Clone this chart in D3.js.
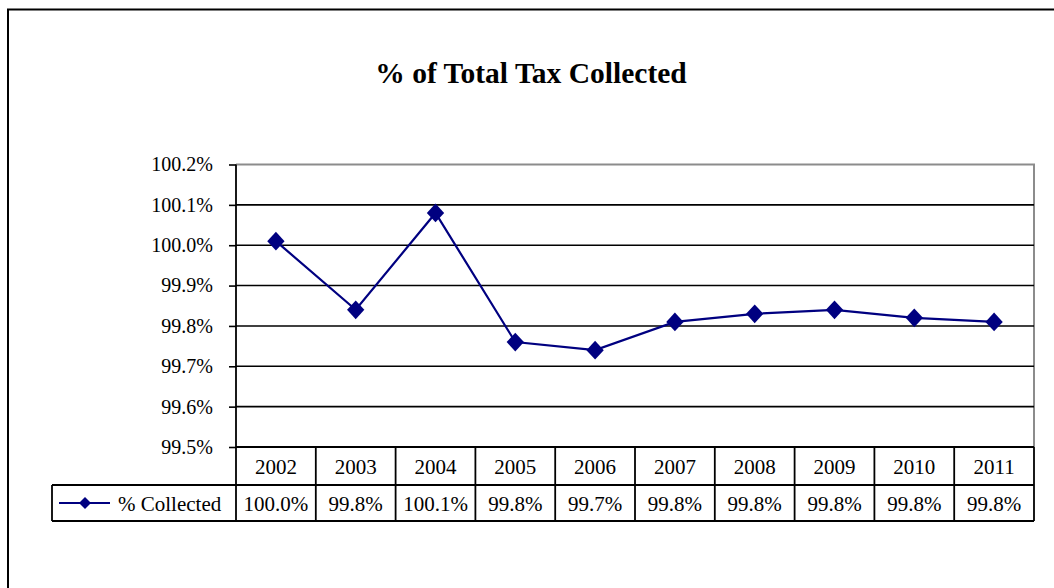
<!DOCTYPE html>
<html>
<head>
<meta charset="utf-8">
<script src="https://cdn.jsdelivr.net/npm/d3@7"></script>
<style>
  html, body { margin: 0; padding: 0; background: #fff; }
  svg { display: block; }
  text { font-family: "Liberation Serif", "Times New Roman", serif; fill: #000; }
</style>
</head>
<body>
<svg id="chart" width="1054" height="588"></svg>
<script>
// Annual collection rate (% of total tax levied)
const years = ["2002", "2003", "2004", "2005", "2006", "2007", "2008", "2009", "2010", "2011"];
const collected = [100.01, 99.84, 100.08, 99.76, 99.74, 99.81, 99.83, 99.84, 99.82, 99.81];
const yTicks = [99.5, 99.6, 99.7, 99.8, 99.9, 100.0, 100.1, 100.2];
const seriesName = "% Collected";
const title = "% of Total Tax Collected";

const svg = d3.select("#chart");
const navy = "#000080";

// square-ish diamond marker (width == height for a given size)
const wideDiamond = {
  draw(ctx, size) {
    const r = Math.sqrt(size / 2);
    ctx.moveTo(0, -r);
    ctx.lineTo(r, 0);
    ctx.lineTo(0, r);
    ctx.lineTo(-r, 0);
    ctx.closePath();
  }
};

// outer chart frame
svg.append("rect")
  .attr("x", 8).attr("y", 9.5)
  .attr("width", 1050).attr("height", 590)
  .attr("fill", "none").attr("stroke", "#000").attr("stroke-width", 2);

const plot = { left: 236, right: 1034, top: 164.5, bottom: 447 };
const row1 = 485, row2 = 521, legendLeft = 52;

const x = d3.scaleBand().domain(years).range([plot.left, plot.right]);
const y = d3.scaleLinear().domain([99.5, 100.2]).range([plot.bottom, plot.top]);

// title
svg.append("text")
  .attr("x", 531).attr("y", 83)
  .attr("text-anchor", "middle")
  .attr("font-size", 29.5).attr("font-weight", "bold")
  .text(title);

// plot border (grey top and right)
svg.append("path")
  .attr("d", `M${plot.left},${plot.top}H${plot.right}V${plot.bottom}`)
  .attr("fill", "none").attr("stroke", "#8c8c8c").attr("stroke-width", 2);

// gridlines
svg.append("g")
  .selectAll("line")
  .data(yTicks.filter(t => t > 99.5 && t < 100.2))
  .join("line")
  .attr("x1", plot.left).attr("x2", plot.right)
  .attr("y1", d => y(d)).attr("y2", d => y(d))
  .attr("stroke", "#000").attr("stroke-width", 1.6);

// y axis
const yAxis = d3.axisLeft(y)
  .tickValues(yTicks)
  .tickSize(7)
  .tickPadding(16)
  .tickFormat(d => d3.format(".1f")(d) + "%");
const ga = svg.append("g")
  .attr("transform", `translate(${plot.left},0)`)
  .call(yAxis);
ga.select(".domain").remove();
ga.selectAll(".tick line").attr("stroke", "#000").attr("stroke-width", 1.6);
ga.selectAll(".tick text")
  .attr("font-family", "Liberation Serif, Times New Roman, serif")
  .attr("font-size", 20).attr("fill", "#000");

// data table: row lines
const tbl = svg.append("g").attr("stroke", "#000").attr("stroke-width", 1.8).attr("fill", "none");
tbl.append("line").attr("x1", plot.left).attr("x2", plot.right).attr("y1", plot.bottom).attr("y2", plot.bottom);
tbl.append("line").attr("x1", legendLeft).attr("x2", plot.right).attr("y1", row1).attr("y2", row1);
tbl.append("line").attr("x1", legendLeft).attr("x2", plot.right).attr("y1", row2).attr("y2", row2);
tbl.append("line").attr("x1", legendLeft).attr("x2", legendLeft).attr("y1", row1).attr("y2", row2);
// column separators
tbl.selectAll("line.col")
  .data(years.concat(["end"]))
  .join("line")
  .attr("class", "col")
  .attr("x1", (d, i) => i < years.length ? x(d) : plot.right)
  .attr("x2", (d, i) => i < years.length ? x(d) : plot.right)
  .attr("y1", (d, i) => i === 0 ? plot.top : plot.bottom)
  .attr("y2", row2);

// header row (years)
svg.append("g").selectAll("text")
  .data(years)
  .join("text")
  .attr("x", d => x(d) + x.bandwidth() / 2)
  .attr("y", (plot.bottom + row1) / 2 + 8)
  .attr("text-anchor", "middle")
  .attr("font-size", 21)
  .text(d => d);

// value row
svg.append("g").selectAll("text")
  .data(collected)
  .join("text")
  .attr("x", (d, i) => x(years[i]) + x.bandwidth() / 2)
  .attr("y", (row1 + row2) / 2 + 8)
  .attr("text-anchor", "middle")
  .attr("font-size", 21)
  .text(d => d3.format(".1f")(d) + "%");

// legend key in the table
const ly = (row1 + row2) / 2;
svg.append("line")
  .attr("x1", 59).attr("x2", 110).attr("y1", ly).attr("y2", ly)
  .attr("stroke", navy).attr("stroke-width", 2);
svg.append("path")
  .attr("d", d3.symbol(wideDiamond, 72)())
  .attr("transform", `translate(85,${ly})`)
  .attr("fill", navy);
svg.append("text")
  .attr("x", 118).attr("y", ly + 8)
  .attr("font-size", 21)
  .text(seriesName);

// series line
const line = d3.line()
  .x((d, i) => x(years[i]) + x.bandwidth() / 2)
  .y(d => y(d));
svg.append("path")
  .datum(collected)
  .attr("d", line)
  .attr("fill", "none")
  .attr("stroke", navy).attr("stroke-width", 2.2);

// markers
svg.append("g").selectAll("path")
  .data(collected)
  .join("path")
  .attr("d", d3.symbol(wideDiamond, 150)())
  .attr("transform", (d, i) => `translate(${x(years[i]) + x.bandwidth() / 2},${y(d)}) scale(1,1.08)`)
  .attr("fill", navy);
</script>
</body>
</html>
